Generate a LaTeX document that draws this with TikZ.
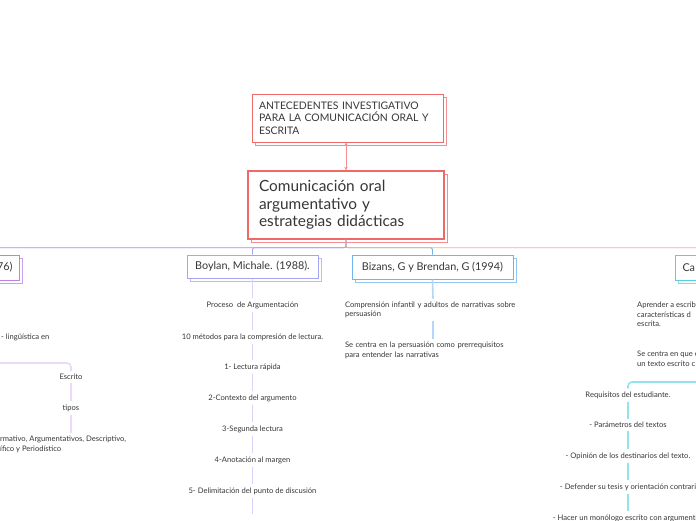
\documentclass[tikz,border=0pt]{standalone}
\usepackage{fontspec}
\setmainfont{Lato}
\usetikzlibrary{shadows,arrows.meta}
\definecolor{txt}{RGB}{55,55,55}
\definecolor{redb}{RGB}{240,105,105}
\definecolor{purb}{RGB}{190,130,230}
\definecolor{purl}{RGB}{234,218,248}
\definecolor{lavb}{RGB}{165,165,245}
\definecolor{lavl}{RGB}{212,212,252}
\definecolor{blub}{RGB}{110,180,240}
\definecolor{blul}{RGB}{178,215,248}
\definecolor{orab}{RGB}{245,175,145}
\definecolor{cyab}{RGB}{85,210,222}
\definecolor{cyal}{RGB}{145,228,235}
\begin{document}
\begin{tikzpicture}[x=1pt,y=-1pt,
  every node/.style={text=txt},
  box/.style={draw=#1, fill=white, line width=1pt, inner xsep=7pt, inner ysep=0pt,
    copy shadow={shadow xshift=3pt, shadow yshift=-3pt, draw=#1!75, fill=white, line width=1pt}},
  kid/.style={box=#1, font=\fontsize{10.8}{13}\selectfont},
  small/.style={font=\fontsize{7.6}{9.5}\selectfont, inner sep=3pt, align=center},
  blk/.style={font=\fontsize{7.6}{9.5}\selectfont, inner sep=3pt, align=left},
  main/.style={line width=0.9pt, rounded corners=2pt},
  sub/.style={line width=1.6pt, rounded corners=4pt}]
\clip (0,0) rectangle (696,520);
\fill[white] (0,0) rectangle (696,520);

% top nodes
\node[box=redb, text width=177pt, minimum height=48pt, align=left,
  font=\fontsize{10.4}{12.5}\selectfont] (ante) at (347.5,118)
  {ANTECEDENTES INVESTIGATIVO\\PARA LA COMUNICACIÓN ORAL Y\\ESCRITA};
\node[box=redb, line width=1.4pt, inner xsep=11pt, text width=174pt, minimum height=68pt, align=left,
  font=\fontsize{15.4}{17.5}\selectfont] (cen) at (346,205)
  {Comunicación oral\\argumentativo y\\estrategias didácticas};
\draw[redb!75, line width=0.9pt, {Stealth[length=3.5pt,width=3.5pt]}-{Stealth[length=3.5pt,width=3.5pt]}]
  (ante.south -| cen.north) -- (cen.north);

% children
\node[kid=purb, text width=100pt, align=right, minimum height=25pt, anchor=east] (c1) at (20,267.5) {76)};
\node[kid=lavb, minimum width=131pt, minimum height=23pt] (c2) at (252.5,266.5) {Boylan, Michale. (1988).};
\node[kid=blub, minimum width=161pt, minimum height=24pt] (c3) at (432.5,267) {Bizans, G y Brendan, G (1994)};
\node[kid=cyab, text width=100pt, align=left, minimum height=25pt, anchor=west] (c4) at (675,267.5) {Ca};

\draw[main, purb] (cen.south) -- ++(0,8) -| (c1.north);
\draw[main, lavb] (cen.south) -- ++(0,8) -| (c2.north);
\draw[main, blub] (cen.south) -- ++(0,8) -| (c3.north);
\draw[main, orab] (cen.south) -- ++(0,8) -| (c4.north);

% Boylan column
\node[small] (b1) at (252.5,305) {Proceso\ \ de Argumentación};
\node[small] (b2) at (252.5,337) {10 métodos para la compresión de lectura.};
\node[small] (b3) at (252.5,367) {1- Lectura rápida};
\node[small] (b4) at (252.5,398) {2-Contexto del argumento};
\node[small] (b5) at (252.5,429) {3-Segunda lectura};
\node[small] (b6) at (252.5,460) {4-Anotación al margen};
\node[small] (b7) at (252.5,491) {5- Delimitación del punto de discusión};
\coordinate (b8) at (252.5,514);
\draw[sub, lavl] (c2.south) -- (b1.north);
\draw[sub, lavl] (b1.south) -- (b2.north);
\draw[sub, lavl] (b2.south) -- (b3.north);
\draw[sub, lavl] (b3.south) -- (b4.north);
\draw[sub, lavl] (b4.south) -- (b5.north);
\draw[sub, lavl] (b5.south) -- (b6.north);
\draw[sub, lavl] (b6.south) -- (b7.north);
\draw[sub, lavl] (b7.south) -- (b8);

% Bizans column
\node[blk, text width=176pt] (z1) at (433,310) {Comprensión infantil y adultos de narrativas sobre\\persuasión};
\node[blk, text width=176pt] (z2) at (433,350.5) {Se centra en la persuasión como prerrequisitos\\para entender las narrativas};
\draw[sub, blul] (c3.south) -- (z1.north);
\draw[sub, blul] (z1.south) -- (z2.north);

% right column
\node[blk, anchor=west] (r1) at (634,314.5) {Aprender a escrib\\características d\\escrita.};
\node[blk, anchor=west] (r2) at (634,359) {Se centra en que e\\un texto escrito c};
\coordinate (rc) at (705,382);
\node[small] (q1) at (628,395) {Requisitos del estudiante.};
\node[small] (q2) at (628,425) {- Parámetros del textos};
\node[small] (q3) at (628,456) {- Opinión de los destinarios del texto.};
\node[small] (q4) at (628,487) {- Defender su tesis y orientación contrari};
\node[small] (q5) at (628,518) {- Hacer un monólogo escrito con argumentos};
\draw[sub, cyal] (rc) -| (q1.north);
\draw[sub, cyal] (q1.south) -- (q2.north);
\draw[sub, cyal] (q2.south) -- (q3.north);
\draw[sub, cyal] (q3.south) -- (q4.north);
\draw[sub, cyal] (q4.south) -- (q5.north);

% left column
\node[blk, anchor=west] (l1) at (-2,337) {- lingüística en};
\coordinate (lc) at (-10,363);
\node[small] (l2) at (71,377) {Escrito};
\node[small] (l3) at (71,408) {tipos};
\node[blk, anchor=north west] (l4) at (-3,433) {rmativo, Argumentativos, Descriptivo,\\ífico y Periodístico};
\draw[sub, purl] (lc) -| (l2.north);
\draw[sub, purl] (l2.south) -- (l3.north);
\draw[sub, purl] (l3.south) -- (l3.south |- l4.north);
\end{tikzpicture}
\end{document}
